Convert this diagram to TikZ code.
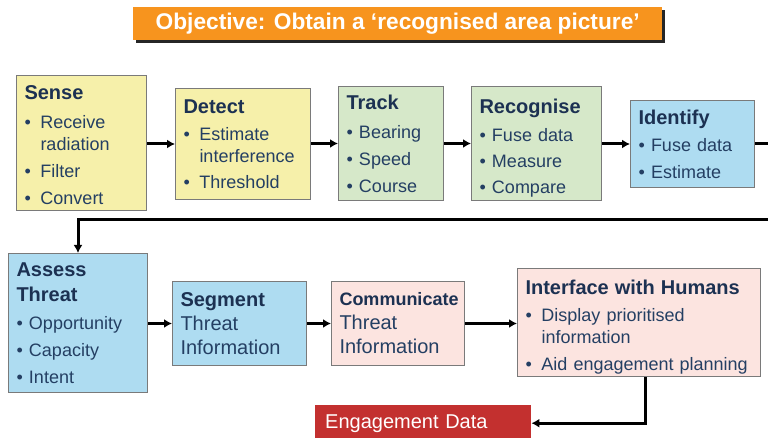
\documentclass[tikz,border=0pt]{standalone}
\usepackage{fontspec}
\setmainfont{Liberation Sans}
\usetikzlibrary{arrows.meta,shadows}

\definecolor{objorange}{HTML}{F7941E}
\definecolor{senseyellow}{HTML}{F6F0AA}
\definecolor{trackgreen}{HTML}{D6E8C9}
\definecolor{threatblue}{HTML}{AEDCF1}
\definecolor{humanpink}{HTML}{FCE4E0}
\definecolor{engagered}{HTML}{C3302F}
\definecolor{boxline}{HTML}{7A7A7A}
\definecolor{headtext}{HTML}{1C3152}
\definecolor{bodytext}{HTML}{243F63}

\newcommand{\hd}[2][20]{{\color{headtext}\fontsize{#1}{24}\selectfont\bfseries #2}}
\newcommand{\bl}{\makebox[16pt][l]{\textbullet}}
\newcommand{\sbl}{\makebox[12.5pt][l]{\textbullet}}

\tikzset{
  stage/.style={draw=boxline, line width=1pt, anchor=north west, align=left,
    inner xsep=8pt, inner ysep=2pt, text=bodytext,
    font=\fontsize{18}{22}\selectfont},
  flow/.style={line width=3pt, -{Latex[length=8pt,width=9pt]}},
}

\begin{document}
\begin{tikzpicture}[x=1pt,y=-1pt]

  \useasboundingbox (0,0) rectangle (768,438);

  \node[anchor=north west, fill=objorange, minimum width=529, minimum height=33,
        inner sep=0pt, text=white, font=\fontsize{22.7}{24}\selectfont\bfseries,
        drop shadow={opacity=1, fill=black!85, shadow xshift=3pt, shadow yshift=-3pt}]
        (objective) at (133,7) {Objective: Obtain a ‘recognised area picture’};

  % first row
  \node[stage, fill=senseyellow, text width=114, minimum height=135] (sense) at (16,75)
    {\rule{0pt}{19pt}\hd{Sense}\\[7pt]
     \bl Receive\\
     \hspace*{16pt}radiation\\[5pt]
     \bl Filter\\[5pt]
     \bl Convert};
  \node[stage, fill=senseyellow, text width=119, minimum height=111] (detect) at (175,88)
    {\hd{Detect}\\[5pt]
     \bl Estimate\\
     \hspace*{16pt}interference\\[4pt]
     \bl Threshold};
  \node[stage, fill=trackgreen, text width=89, minimum height=114] (track) at (338,86)
    {\hd{Track}\\[7pt]
     \sbl Bearing\\[5pt]
     \sbl Speed\\[5pt]
     \sbl Course};
  \node[stage, fill=trackgreen, text width=114, minimum height=114] (recognise) at (471,86)
    {\rule{0pt}{24pt}\hd{Recognise}\\[6pt]
     \sbl Fuse data\\[4pt]
     \sbl Measure\\[4pt]
     \sbl Compare};
  \node[stage, fill=threatblue, text width=108, minimum height=87] (identify) at (630,100)
    {\hd{Identify}\\[5pt]
     \sbl Fuse data\\[5pt]
     \sbl Estimate};

  % second row
  \node[stage, fill=threatblue, text width=123, minimum height=139] (assess) at (8,253)
    {\hd{Assess}\\[3pt]
     \hd{Threat}\\[6pt]
     \sbl Opportunity\\[5pt]
     \sbl Capacity\\[5pt]
     \sbl Intent};
  \node[stage, fill=threatblue, text width=118, minimum height=84,
        font=\fontsize{20}{24}\selectfont] (segment) at (172,281)
    {\hd{Segment}\\
     Threat\\
     Information};
  \node[stage, fill=humanpink, text width=117, minimum height=84,
        font=\fontsize{20}{24}\selectfont] (communicate) at (331,281)
    {\hd[18]{Communicate}\\
     Threat\\
     Information};
  \node[stage, fill=humanpink, text width=227, minimum height=108] (iface) at (517,268)
    {\rule{0pt}{24pt}\hd{Interface with Humans}\\[5pt]
     \bl Display prioritised\\
     \hspace*{16pt}information\\[5pt]
     \bl Aid engagement planning};

  \node[anchor=north west, fill=engagered, text=white, align=left, inner xsep=10pt,
        text width=196, minimum height=36, font=\fontsize{20}{24}\selectfont]
        (engage) at (315,405) {Engagement Data};

  \coordinate (turn) at (790,220);

  \draw[flow] (sense.east |- detect.west) -- (detect.west);
  \draw[flow] (detect.east |- track.west) -- (track.west);
  \draw[flow] (track.east) -- (recognise.west);
  \draw[flow] (recognise.east |- identify.west) -- (identify.west);
  \draw[flow] (identify.east) -| (turn) -| (assess.north);

  \draw[flow] (assess.east |- segment.west) -- (segment.west);
  \draw[flow] (segment.east) -- (communicate.west);
  \draw[flow] (communicate.east) -- (communicate.east -| iface.west);
  \draw[flow] ([xshift=6pt]iface.south) |- (engage.east);

\end{tikzpicture}
\end{document}
